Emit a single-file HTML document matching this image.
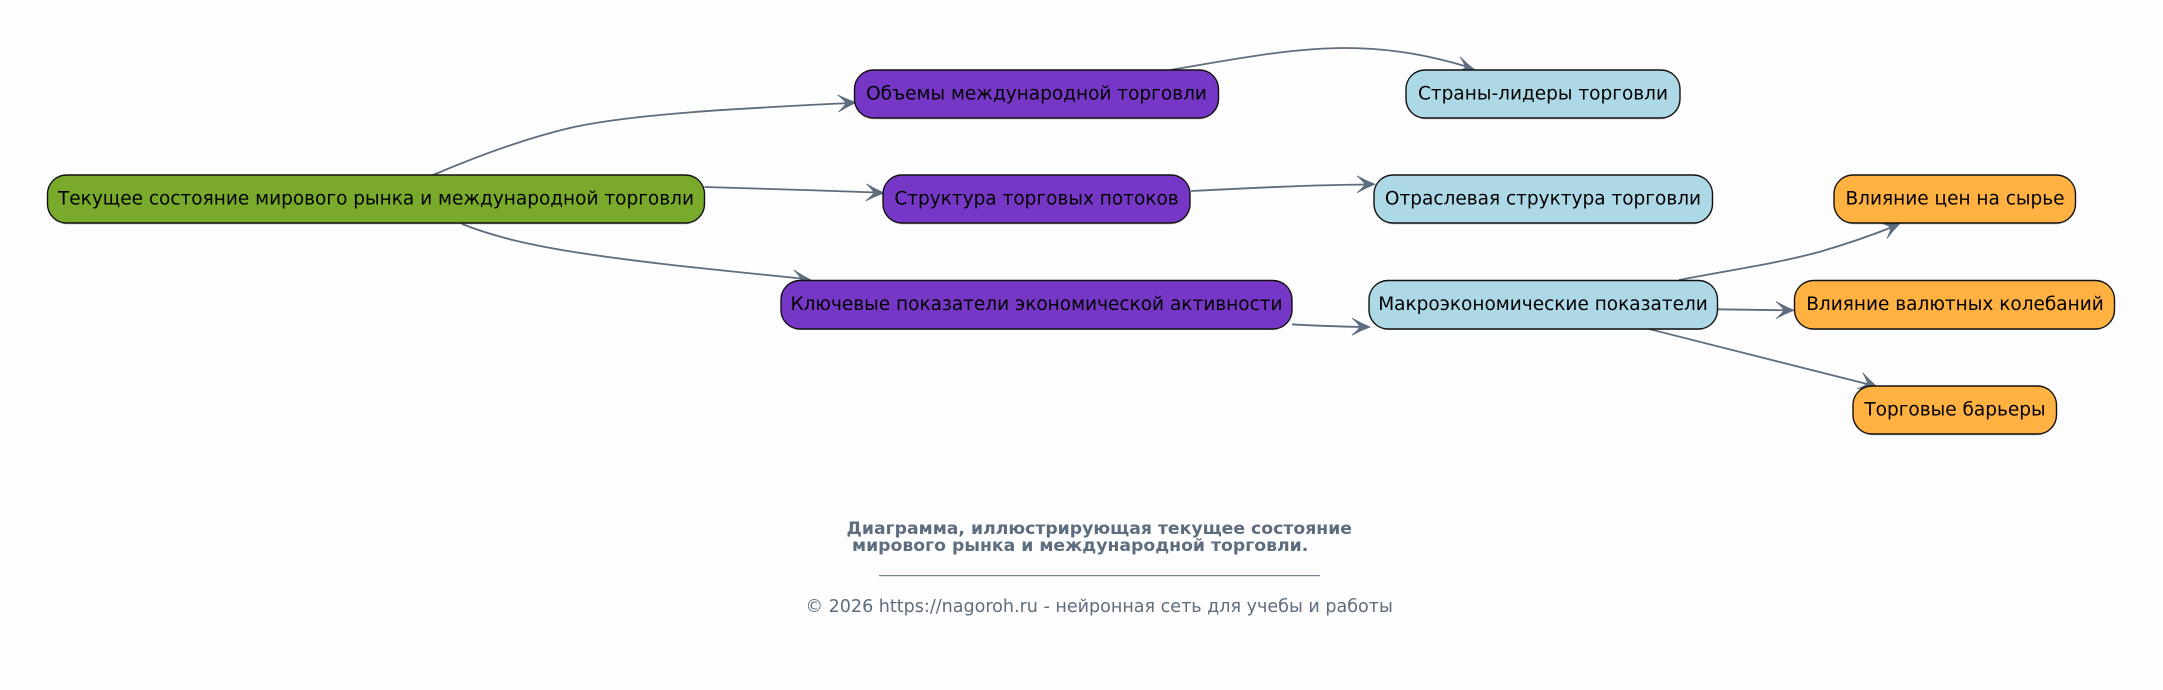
<!DOCTYPE html>
<html lang="ru"><head><meta charset="utf-8"><title>Диаграмма</title>
<style>
html,body{margin:0;padding:0;background:#fdfdfd}
svg{display:block}
text{font-family:"DejaVu Sans","Liberation Sans",sans-serif}
.n{stroke:#111;stroke-width:1.4}
.s{fill:#000;opacity:.18}
.l{font-size:18.5px;fill:#000;text-anchor:middle}
.e{fill:none;stroke:#5d6d7e;stroke-width:1.8}
.a{fill:#5d6d7e;stroke:#5d6d7e;stroke-width:.8}
.t{font-size:17.25px;font-weight:bold;fill:#5d6d7e}
.c{font-size:17.55px;fill:#5d6d7e}
</style></head><body>
<svg width="2163" height="690" viewBox="0 0 2163 690" xmlns="http://www.w3.org/2000/svg">
<defs><path id="h" d="M0,0 Q-9,-3.500 -18,-8.500 Q-12,-3.500 -10,0 Q-12,3.500 -18,8.500 Q-9,3.500 0,0Z"/></defs>
<rect width="2163" height="690" fill="#fdfdfd"/>
<!-- edges -->
<path class="e" d="M433,175 C480,155 530,137 574,127 C640,113 750,108 850,103"/>
<use class="a" href="#h" transform="translate(856,102.500) rotate(-3)"/>
<path class="e" d="M704.500,187 C760,188.500 820,190.500 877,192.500"/>
<use class="a" href="#h" transform="translate(884,193) rotate(2)"/>
<path class="e" d="M462,224 C495,237 530,245 574,252 C650,264 740,272 805,279"/>
<use class="a" href="#h" transform="translate(811,280) rotate(5)"/>
<path class="e" d="M1170,70 C1230,60 1290,48 1345,48 C1395,48 1435,57 1468,67"/>
<use class="a" href="#h" transform="translate(1475,70) rotate(16)"/>
<path class="e" d="M1191,191 C1250,188 1310,185 1368,184.500"/>
<use class="a" href="#h" transform="translate(1375,184.300)"/>
<path class="e" d="M1292,324.300 C1320,326 1340,326.500 1364,327"/>
<use class="a" href="#h" transform="translate(1370,327) rotate(1)"/>
<path class="e" d="M1679,280 C1730,270 1775,264 1820,251.700 C1850,243 1875,234 1895,226"/>
<use class="a" href="#h" transform="translate(1900,223.300) rotate(-24)"/>
<path class="e" d="M1718,309.300 L1788,310.300"/>
<use class="a" href="#h" transform="translate(1794,310.300) rotate(.5)"/>
<path class="e" d="M1649,329 L1871,385"/>
<use class="a" href="#h" transform="translate(1877,386.700) rotate(19)"/>
<!-- nodes -->
<rect class="s" x="47.5" y="176" width="657" height="48.5" rx="19"/>
<rect class="n" x="47.5" y="175" width="657" height="48" rx="19" fill="#7aaa2b"/>
<text class="l" x="376" y="204.500">Текущее состояние мирового рынка и международной торговли</text>

<rect class="s" x="854.5" y="71" width="364" height="48.5" rx="19"/>
<rect class="n" x="854.5" y="70" width="364" height="48" rx="19" fill="#7737c6"/>
<text class="l" x="1036.5" y="99.500">Объемы международной торговли</text>

<rect class="s" x="883" y="176" width="307" height="48.5" rx="19"/>
<rect class="n" x="883" y="175" width="307" height="48" rx="19" fill="#7737c6"/>
<text class="l" x="1036.5" y="204.500">Структура торговых потоков</text>

<rect class="s" x="781" y="281.5" width="511" height="48.5" rx="19"/>
<rect class="n" x="781" y="280.5" width="511" height="48.5" rx="19" fill="#7737c6"/>
<text class="l" x="1036.5" y="310">Ключевые показатели экономической активности</text>

<rect class="s" x="1406" y="71" width="274" height="48.5" rx="19"/>
<rect class="n" x="1406" y="70" width="274" height="48" rx="19" fill="#add8e6"/>
<text class="l" x="1543" y="99.500">Страны-лидеры торговли</text>

<rect class="s" x="1374" y="176" width="338.500" height="48.5" rx="19"/>
<rect class="n" x="1374" y="175" width="338.500" height="48" rx="19" fill="#add8e6"/>
<text class="l" x="1543" y="204.500">Отраслевая структура торговли</text>

<rect class="s" x="1369" y="281.5" width="348.500" height="48.5" rx="19"/>
<rect class="n" x="1369" y="280.5" width="348.500" height="48.500" rx="19" fill="#add8e6"/>
<text class="l" x="1543" y="310">Макроэкономические показатели</text>

<rect class="s" x="1834" y="176" width="241.500" height="48.5" rx="19"/>
<rect class="n" x="1834" y="175" width="241.500" height="48" rx="19" fill="#ffb142"/>
<text class="l" x="1955" y="204.500">Влияние цен на сырье</text>

<rect class="s" x="1794.500" y="281.5" width="320" height="48.5" rx="19"/>
<rect class="n" x="1794.500" y="280.5" width="320" height="48.500" rx="19" fill="#ffb142"/>
<text class="l" x="1955" y="310">Влияние валютных колебаний</text>

<rect class="s" x="1853" y="387" width="203.500" height="48.5" rx="19"/>
<rect class="n" x="1853" y="386" width="203.500" height="48" rx="19" fill="#ffb142"/>
<text class="l" x="1955" y="415.500">Торговые барьеры</text>

<!-- caption -->
<text class="t" x="846.500" y="534">Диаграмма, иллюстрирующая текущее состояние</text>
<text class="t" x="852" y="551">мирового рынка и международной торговли.</text>
<rect x="879" y="575" width="441" height="1.200" fill="#5d6d7e" opacity=".85"/>
<text class="c" x="805.500" y="612">© 2026 https://nagoroh.ru - нейронная сеть для учебы и работы</text>
</svg>
</body></html>
